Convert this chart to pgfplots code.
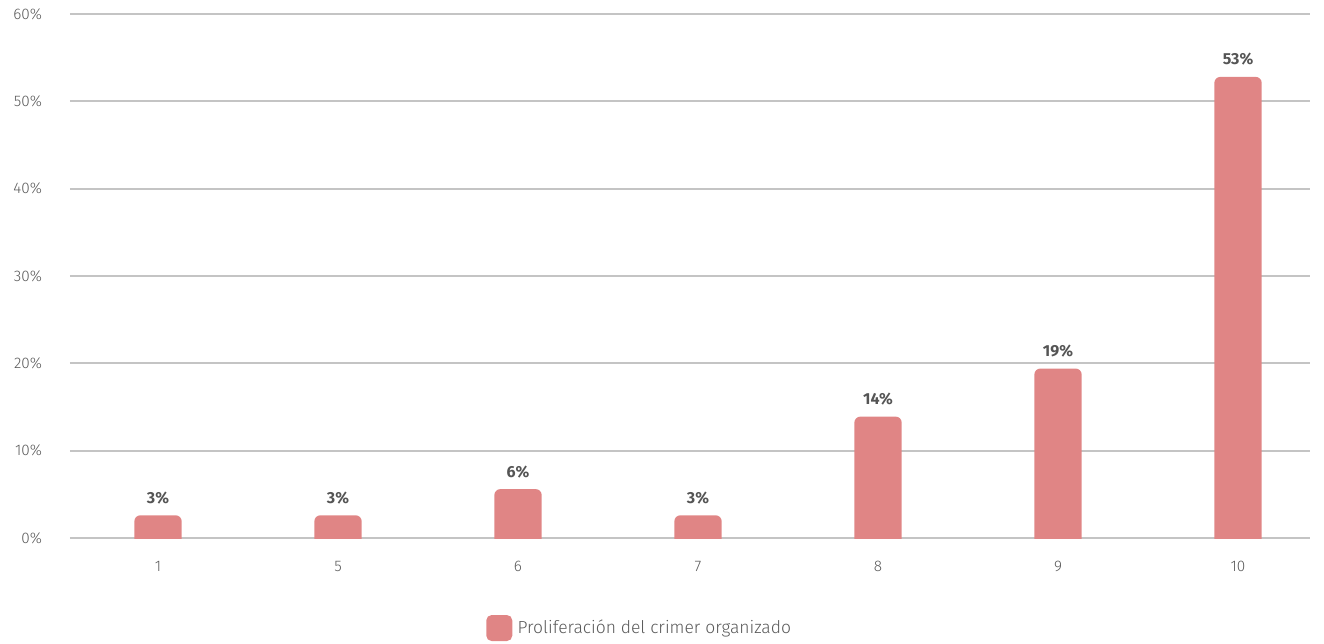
\documentclass[border=0pt]{standalone}
\usepackage{fontspec}
\setmainfont{Fira Sans}
\newfontfamily\lightfont{Fira Sans Light}
\usepackage{pgfplots}
\pgfplotsset{compat=1.18}
\definecolor{barc}{HTML}{E08585}
\definecolor{gridc}{HTML}{C4C4C4}
\definecolor{tickc}{HTML}{5A5A5A}
\definecolor{labc}{HTML}{555555}
\begin{document}
\begin{tikzpicture}
\useasboundingbox (-52.5pt,-78.75pt) rectangle (940.5pt,403.5pt);
\begin{axis}[
  at={(0pt,0pt)}, anchor=south west,
  scale only axis, width=930pt, height=393pt,
  ybar stacked, stack negative=on previous,
  ymin=0, ymax=60, ytick={0,10,...,60},
  yticklabel={\pgfmathprintnumber{\tick}\%},
  xmin=-0.489, xmax=6.4,
  xtick={0,...,6}, xticklabels={1,5,6,7,8,9,10},
  axis line style={draw=none},
  major tick length=0pt,
  ymajorgrids, grid style={gridc, line width=1.3pt},
  tick label style={font=\lightfont\fontsize{11.5}{13}\selectfont, text=tickc},
  /pgf/number format/assume math mode=true,
  yticklabel style={xshift=-17.5pt},
  xticklabel style={yshift=-14pt},
  bar width=35.5pt,
  legend style={at={(0.3355,-0.1718)}, anchor=west, draw=none, fill=none, inner sep=0pt,
    font=\lightfont\fontsize{13.1}{15}\selectfont, text=tickc},
  legend image code/.code={\fill[barc, rounded corners=4pt] (0pt,-9.75pt) rectangle (19.5pt,9.75pt);},
  legend cell align=left,
]
% invisible base below the axis so that only the top corners of the bars are rounded
\addplot[fill=none, draw=none, forget plot]
  coordinates {(0,-3) (1,-3) (2,-3) (3,-3) (4,-3) (5,-3) (6,-3)};
\addplot[fill=barc, draw=none, rounded corners=4.5pt]
  coordinates {(0,5.6) (1,5.6) (2,8.6) (3,5.6) (4,16.9) (5,22.4) (6,55.8)};
\addlegendentry{\hspace{2pt}Proliferación del crimer organizado}
% very thin invisible segment on top of each bar, carrying the value labels
\addplot[fill=none, draw=none, forget plot,
  point meta=explicit,
  nodes near coords={\pgfmathprintnumber[fixed,precision=0]{\pgfplotspointmeta}\%},
  every node near coord/.append style={anchor=south, font=\fontsize{12}{14}\selectfont\bfseries, text=labc, yshift=5pt}]
  coordinates {(0,0.01)[2.6] (1,0.01)[2.6] (2,0.01)[5.6] (3,0.01)[2.6] (4,0.01)[13.9] (5,0.01)[19.4] (6,0.01)[52.8]};
\end{axis}
\end{tikzpicture}
\end{document}
